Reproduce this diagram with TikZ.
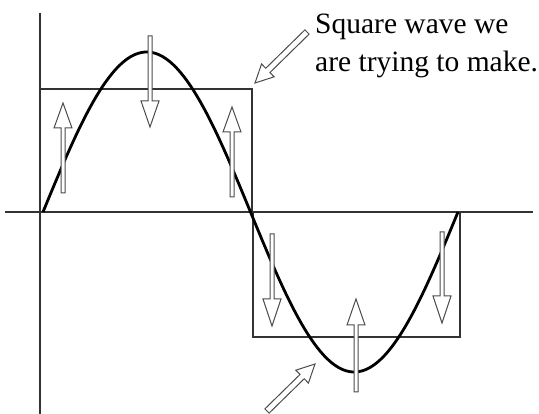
\documentclass[tikz,border=0pt]{standalone}
\usepackage{fontspec}
\setmainfont{Liberation Serif}
\usetikzlibrary{calc}
\tikzset{
  axisline/.style={line width=1.3pt, draw=black!80},
  boxline/.style={line width=1.3pt, draw=black!80},
  wave/.style={line width=2.8pt, draw=black, line join=round},
  barr/.style={line width=1pt, draw=black!70, fill=white, line join=miter},
  lbl/.style={anchor=base west, inner sep=0pt, font=\fontsize{29.5}{39}\selectfont}
}
\newcommand\blockarr[6]{% tail, tip, half shaft, half head, head length, name
  \coordinate (#6t) at (#1);
  \coordinate (#6h) at (#2);
  \coordinate (#6b) at ($(#6h)!#5!(#6t)$);
  \draw[barr] ($(#6t)!#3!90:(#6h)$) -- ($(#6b)!#3!90:(#6h)$) -- ($(#6b)!#4!90:(#6h)$)
     -- (#6h) -- ($(#6b)!#4!-90:(#6h)$) -- ($(#6b)!#3!-90:(#6h)$) -- ($(#6t)!#3!-90:(#6h)$) -- cycle;
}
\begin{document}
\begin{tikzpicture}[x=1pt,y=-1pt]
\useasboundingbox (0,0) rectangle (539,414);
% axes
\draw[axisline] (40,13) -- (40,414);
\draw[axisline] (5,212) -- (533,212);
% square wave
\draw[boxline] (40,89) rectangle (252,212);
\draw[boxline] (253,212) rectangle (460,337);
% sine
\draw[wave] plot[domain=0:360, samples=181, smooth] ({43+1.152778*\x},{212-160*sin(\x)});
% vertical block arrows
\blockarr{63,193}{63,103}{2pt}{9pt}{25pt}{a1}
\blockarr{150,36}{150,127}{2pt}{9pt}{26pt}{a2}
\blockarr{232,197}{232,107}{2pt}{9pt}{25pt}{a3}
\blockarr{272,234}{272,326}{2pt}{9pt}{27pt}{a4}
\blockarr{356,392}{356,299}{2pt}{9pt}{26pt}{a5}
\blockarr{442,232}{442,323}{2pt}{9pt}{27pt}{a6}
% diagonal pointer arrows
\blockarr{307,32}{255,83}{3pt}{9pt}{18pt}{d1}
\blockarr{267,411}{315,364}{3pt}{9pt}{18pt}{d2}
% label
\node[lbl] (l1) at (315,34) {Square wave we};
\node[lbl] (l2) at (315,72) {are trying to make.};
\end{tikzpicture}
\end{document}
